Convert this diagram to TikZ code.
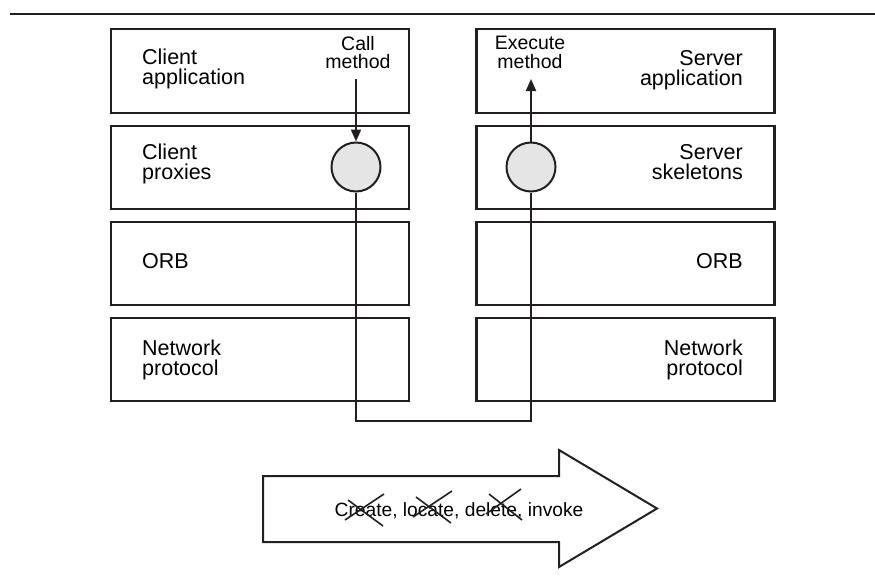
\documentclass[tikz,border=0pt]{standalone}
\usepackage{fontspec}
\setmainfont{Liberation Sans}
\usetikzlibrary{arrows.meta,calc}
\definecolor{ink}{HTML}{231F20}
\begin{document}
\begin{tikzpicture}[x=1pt,y=-1pt,
  layer/.style={draw=ink, line width=2.2pt, minimum width=298pt, minimum height=84pt, inner sep=0pt},
  lbl/.style={font=\fontsize{21.5}{20.5}\selectfont, inner sep=0pt,
    execute at begin node=\strut, execute at end node=\strut},
  small/.style={font=\fontsize{19.5}{18.5}\selectfont, inner sep=0pt, align=center,
    execute at begin node=\strut, execute at end node=\strut},
  stub/.style={draw=ink, fill=black!10, line width=2pt, circle, minimum size=49pt, inner sep=0pt},
  wire/.style={draw=ink, line width=2pt},
  call/.style={wire, -{Triangle[length=12pt,width=10pt]}},
  strike/.style={draw=ink, line width=1.6pt},
]
\useasboundingbox (0,0) rectangle (875,587);
\draw[ink, line width=2.5pt] (10,14) -- (875,14);

% left stack
\node[layer] (ca) at (260,71) {};
\node[layer, minimum height=83pt] (cp) at (260,167.5) {};
\node[layer, minimum height=83pt] (lorb) at (260,263.5) {};
\node[layer, minimum height=83pt] (lnet) at (260,359.5) {};
% right stack
\node[layer] (sa) at (625.5,71) {};
\node[layer, minimum height=83pt] (ss) at (625.5,167.5) {};
\node[layer, minimum height=83pt] (rorb) at (625.5,263.5) {};
\node[layer, minimum height=83pt] (rnet) at (625.5,359.5) {};

% labels
\node[lbl, anchor=west, align=left] (catxt) at (142,70) {Client\\application};
\node[lbl, anchor=west, align=left] (cptxt) at (142,165) {Client\\proxies};
\node[lbl, anchor=west, align=left] (lorbtxt) at (142,264.5) {ORB};
\node[lbl, anchor=west, align=left] (lnettxt) at (142,361) {Network\\protocol};
\node[lbl, anchor=east, align=right] (satxt) at (743,71) {Server\\application};
\node[lbl, anchor=east, align=right] (sstxt) at (743,165) {Server\\skeletons};
\node[lbl, anchor=east, align=right] (rorbtxt) at (743,264.5) {ORB};
\node[lbl, anchor=east, align=right] (rnettxt) at (743,361) {Network\\protocol};

\node[small] (calltxt) at (358,55) {Call\\method};
\node[small] (exectxt) at (530,55) {Execute\\method};

% stubs
\node[stub] (proxy) at (356,167) {};
\node[stub] (skel) at (531,167) {};

\coordinate (cstart) at (356,79);
\coordinate (send) at (531,79);
\coordinate (bottom) at (443.5,421);

\draw[call] (cstart) -- (proxy.north);
\draw[wire] (proxy.south) |- (bottom) -| (skel.south);
\draw[call] (skel.north) -- (send);

% big arrow
\draw[draw=ink, line width=2pt, line join=miter]
  (263,476) -- (559,476) -- (559,450) -- (657,508.5) -- (559,567) -- (559,542) -- (263,542) -- cycle;
\node[font=\fontsize{19.2}{18}\selectfont, inner sep=0pt, anchor=base] (ops) at (459,516) {Create, locate, delete, invoke};
\draw[strike] (348,500) -- (383,526) (345,520) -- (384,494);
\draw[strike] (416,497) -- (451,523) (413,517) -- (452,491);
\draw[strike] (489,494) -- (522,520) (486,514) -- (521,489);
\end{tikzpicture}
\end{document}
